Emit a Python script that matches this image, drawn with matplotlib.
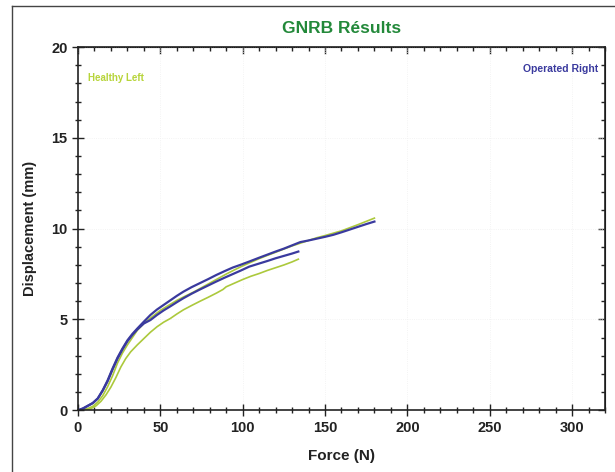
import numpy as np
from matplotlib import pyplot as plt
from matplotlib.lines import Line2D
from matplotlib.ticker import MultipleLocator

plt.rcParams['font.family'] = ['Liberation Sans', 'DejaVu Sans']

# operated right, trial 1 (long)
right1_force = [0, 3, 6, 9, 12, 15, 18, 21, 24, 27, 30, 33, 36, 40, 44, 48, 52, 56,
                60, 64, 69, 74, 79, 84, 89, 94, 99, 104, 110, 115, 120, 125, 130,
                135, 140, 145, 150, 155, 160, 165, 170, 175, 180]
right1_disp = [0, 0.1, 0.25, 0.4, 0.65, 1.1, 1.65, 2.3, 2.9, 3.4, 3.85, 4.2, 4.5,
               4.88, 5.25, 5.55, 5.8, 6.05, 6.3, 6.53, 6.78, 7.0, 7.22, 7.45, 7.66,
               7.86, 8.02, 8.19, 8.4, 8.57, 8.74, 8.9, 9.08, 9.26, 9.35, 9.45, 9.55,
               9.66, 9.8, 9.95, 10.1, 10.25, 10.39]

# operated right, trial 2 (short)
right2_force = [0, 3, 6, 9, 12, 15, 18, 21, 24, 27, 30, 33, 36, 40, 44, 48, 52, 56,
                60, 64, 69, 74, 79, 84, 89, 94, 99, 104, 110, 115, 120, 125, 130,
                133.8]
right2_disp = [0, 0.1, 0.25, 0.4, 0.65, 1.08, 1.6, 2.25, 2.85, 3.35, 3.8, 4.15,
               4.45, 4.78, 4.97, 5.25, 5.5, 5.72, 5.95, 6.17, 6.42, 6.65, 6.87,
               7.09, 7.3, 7.5, 7.7, 7.91, 8.08, 8.22, 8.37, 8.5, 8.63, 8.74]

# healthy left, trial 1 (long)
left1_force = [0, 3, 6, 9, 12, 15, 18, 21, 24, 27, 30, 33, 36, 40, 45, 50, 55, 60,
               65, 70, 75, 80, 85, 90, 95, 100, 105, 110, 115, 120, 125, 130, 135,
               140, 145, 150, 155, 160, 165, 170, 175, 180]
left1_disp = [0, 0.03, 0.1, 0.22, 0.45, 0.8, 1.3, 1.9, 2.6, 3.15, 3.6, 4.0, 4.4,
              4.78, 5.15, 5.5, 5.78, 6.05, 6.28, 6.5, 6.75, 7.0, 7.25, 7.5, 7.73,
              7.95, 8.15, 8.35, 8.53, 8.7, 8.88, 9.05, 9.2, 9.35, 9.5, 9.62, 9.75,
              9.88, 10.05, 10.22, 10.4, 10.58]

# healthy left, trial 2 (short)
left2_force = [0, 5, 8, 11, 14, 17, 20, 23, 26, 29, 32, 36, 40, 44, 48, 52, 56, 60,
               64, 69, 74, 79, 84, 88, 90, 95, 100, 105, 110, 115, 120, 125, 130,
               133.8]
left2_disp = [0, 0.03, 0.1, 0.25, 0.5, 0.85, 1.28, 1.8, 2.38, 2.85, 3.22, 3.6,
              3.95, 4.3, 4.6, 4.85, 5.05, 5.3, 5.53, 5.77, 6.0, 6.22, 6.45, 6.65,
              6.8, 7.0, 7.2, 7.38, 7.53, 7.7, 7.85, 8.0, 8.17, 8.32]

blue = "#3a3a9e"
green = "#acc93c"
ink = "#222222"

fig = plt.figure(figsize=(6.15, 4.72), dpi=100)
ax = fig.add_axes([0.1268, 0.1307, 0.8569, 0.7697])

ax.plot(left1_force, left1_disp, color=green, lw=1.2)
ax.plot(left2_force, left2_disp, color=green, lw=1.2)
ax.plot(right2_force, right2_disp, color=blue, lw=1.6)
ax.plot(right1_force, right1_disp, color=blue, lw=1.6)

ax.set_xlim(0, 320)
ax.set_ylim(0, 20)
ax.xaxis.set_major_locator(MultipleLocator(50))
ax.xaxis.set_minor_locator(MultipleLocator(10))
ax.yaxis.set_major_locator(MultipleLocator(5))
ax.yaxis.set_minor_locator(MultipleLocator(1))
ax.tick_params(which='both', direction='inout', colors=ink, labelsize=10.5)
ax.tick_params(which='major', length=8, width=1)
ax.tick_params(which='minor', length=4, width=1)
for lbl in ax.get_xticklabels() + ax.get_yticklabels():
    lbl.set_fontweight('bold')
for s in ax.spines.values():
    s.set_color(ink)
    s.set_linewidth(1.2)
ax.grid(True, which='major', color='#f0f0f0', lw=0.6, ls=':')

# inward ticks on top and right
top = ax.secondary_xaxis('top')
top.xaxis.set_major_locator(MultipleLocator(50))
top.xaxis.set_minor_locator(MultipleLocator(10))
top.tick_params(which='both', direction='in', labeltop=False, colors=ink, width=1)
top.tick_params(which='major', length=5)
top.tick_params(which='minor', length=3)
right = ax.secondary_yaxis('right')
right.yaxis.set_major_locator(MultipleLocator(5))
right.yaxis.set_minor_locator(MultipleLocator(1))
right.tick_params(which='both', direction='in', labelright=False, colors=ink, width=1)
right.tick_params(which='major', length=5)
right.tick_params(which='minor', length=3)

ax.set_xlabel("Force (N)", fontsize=11, fontweight='bold', color=ink, labelpad=10)
ax.set_ylabel("Displacement (mm)", fontsize=10.5, fontweight='bold', color=ink, labelpad=10)
ax.set_title("GNRB Résults", fontsize=12.5, fontweight='bold', color='#23893a', pad=10)

ax.text(6, 18.3, "Healthy Left", color="#b7d43a", fontsize=7, fontweight='bold',
        ha='left', va='center')
ax.text(316, 18.8, "Operated Right", color=blue, fontsize=7.5, fontweight='bold',
        ha='right', va='center')

# outer frame (left and top edges visible)
fig.add_artist(Line2D([12 / 615, 12 / 615], [0, 1 - 6 / 472], color='#444444', lw=1))
fig.add_artist(Line2D([12 / 615, 1], [1 - 6 / 472, 1 - 6 / 472], color='#444444', lw=1))

fig.savefig("out.png", dpi=100)
